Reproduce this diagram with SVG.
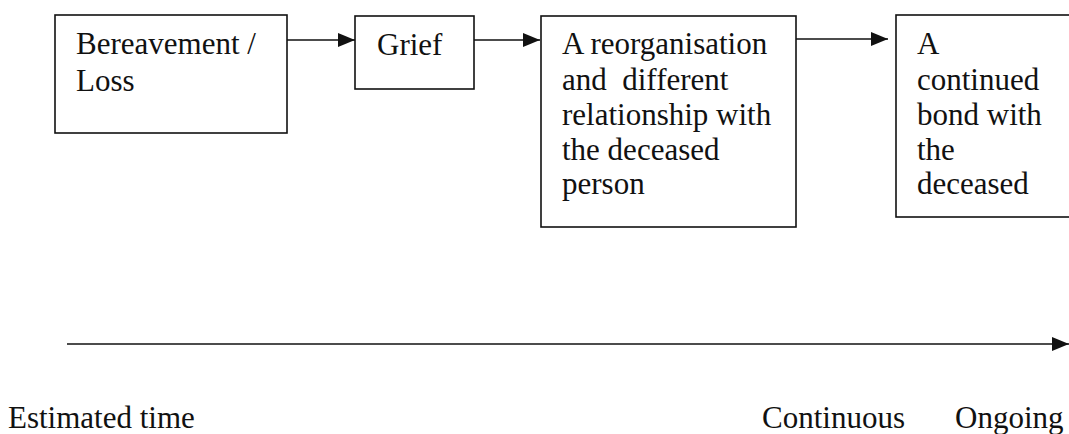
<svg xmlns="http://www.w3.org/2000/svg" width="1069" height="434" viewBox="0 0 1069 434">
  <style>
    .box { fill: #fff; stroke: #111; stroke-width: 1.6; }
    .lbl { font-family: "Liberation Serif", "Times New Roman", serif; font-size: 31px; fill: #111; white-space: pre; }
    .link { stroke: #111; stroke-width: 1.5; fill: none; }
  </style>
  <defs>
    <marker id="head" viewBox="0 0 17 14" refX="17" refY="7" markerWidth="17" markerHeight="14" markerUnits="userSpaceOnUse" orient="auto">
      <path d="M0,0 L17,7 L0,14 Z" fill="#111"/>
    </marker>
  </defs>

  <rect width="1069" height="434" fill="#fff"/>

  <g id="connectors">
    <line class="link" x1="287" y1="40" x2="355" y2="40" marker-end="url(#head)"/>
    <line class="link" x1="474" y1="40" x2="540" y2="40" marker-end="url(#head)"/>
    <line class="link" x1="796" y1="39" x2="888" y2="39" marker-end="url(#head)"/>
    <line class="link" x1="67" y1="344" x2="1069" y2="344" marker-end="url(#head)"/>
  </g>

  <g id="node-loss">
    <rect class="box" x="55" y="15" width="232" height="118"/>
    <text class="lbl" x="76" y="54">Bereavement /</text>
    <text class="lbl" x="76" y="91">Loss</text>
  </g>

  <g id="node-grief">
    <rect class="box" x="355" y="16" width="119" height="73"/>
    <text class="lbl" x="377" y="55">Grief</text>
  </g>

  <g id="node-reorganisation">
    <rect class="box" x="541" y="16" width="255" height="211"/>
    <text class="lbl" x="562" y="54">A reorganisation</text>
    <text class="lbl" x="562" y="90">and  different</text>
    <text class="lbl" x="562" y="125">relationship with</text>
    <text class="lbl" x="562" y="160">the deceased</text>
    <text class="lbl" x="562" y="194">person</text>
  </g>

  <g id="node-bond">
    <rect class="box" x="896" y="15" width="180" height="202"/>
    <text class="lbl" x="917" y="54">A</text>
    <text class="lbl" x="917" y="90">continued</text>
    <text class="lbl" x="917" y="125">bond with</text>
    <text class="lbl" x="917" y="160">the</text>
    <text class="lbl" x="917" y="194">deceased</text>
  </g>

  <g id="timeline-labels">
    <text class="lbl" x="8" y="428">Estimated time</text>
    <text class="lbl" x="762" y="428">Continuous</text>
    <text class="lbl" x="955" y="428">Ongoing</text>
  </g>
</svg>
